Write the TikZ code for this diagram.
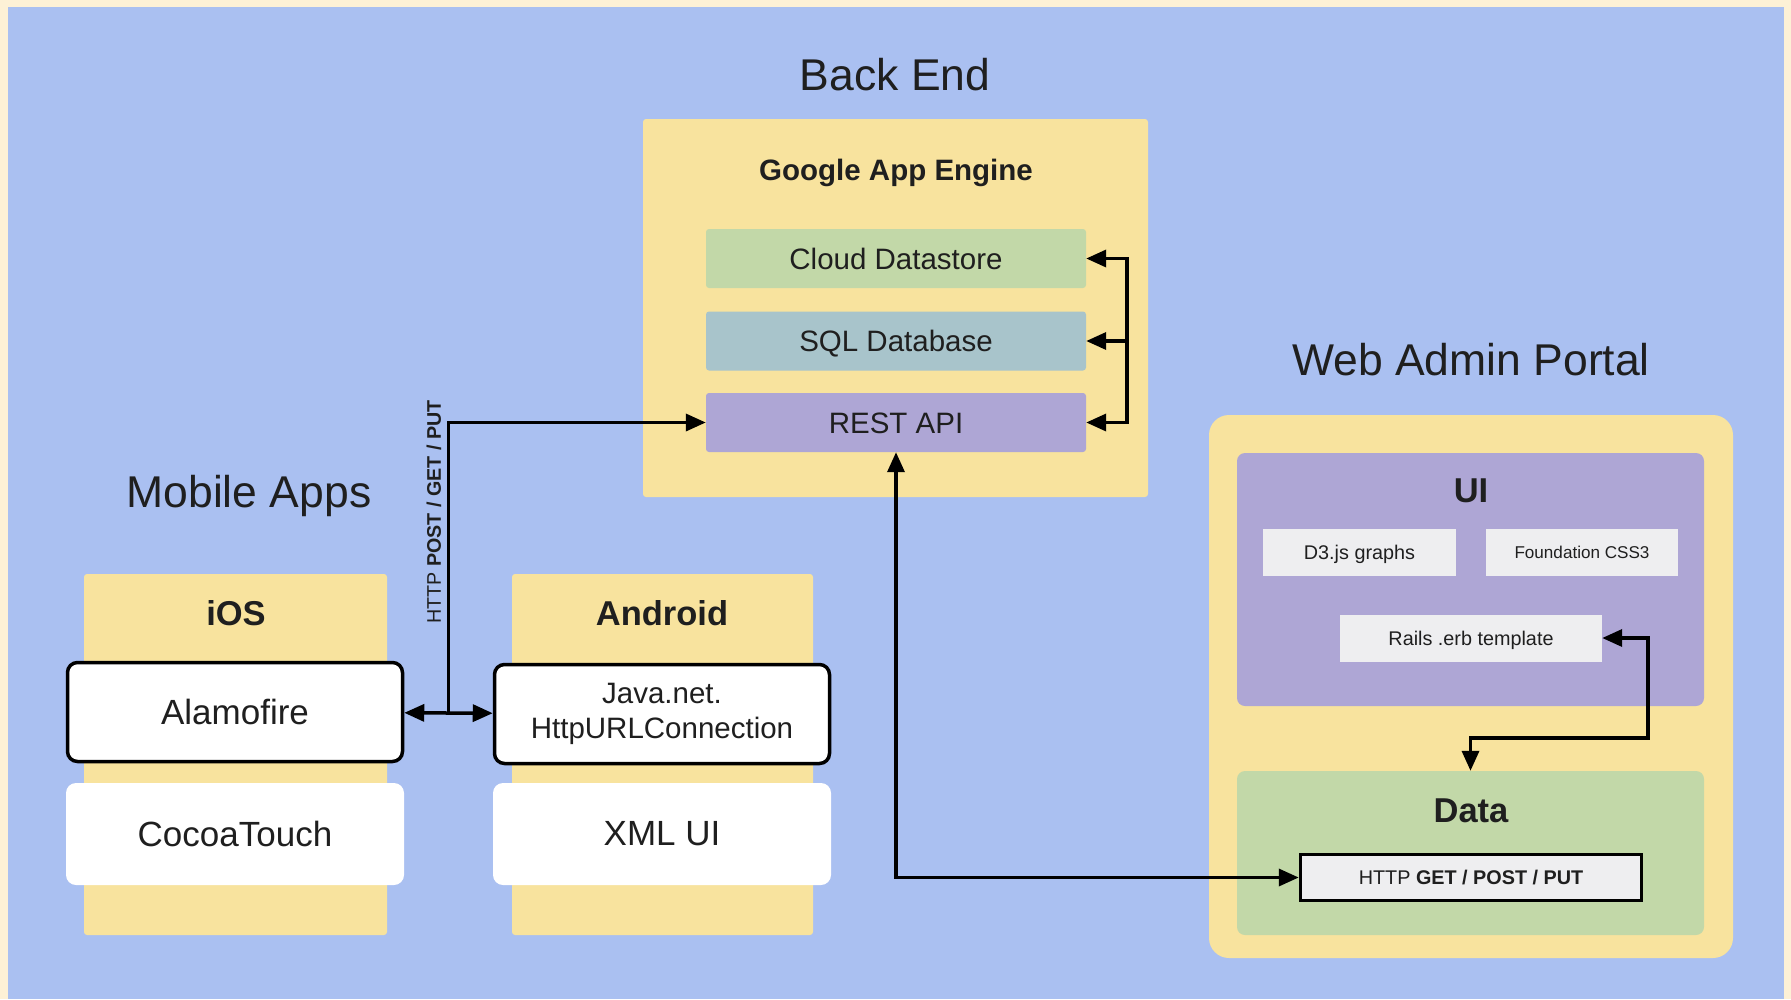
\documentclass[tikz,border=0pt]{standalone}
\usepackage{fontspec}
\setmainfont{Liberation Sans}
\usetikzlibrary{positioning,calc,arrows.meta}

\definecolor{bgblue}{RGB}{170,192,241}
\definecolor{rim}{RGB}{253,241,214}
\definecolor{sand}{RGB}{248,227,158}
\definecolor{leaf}{RGB}{194,216,168}
\definecolor{slate}{RGB}{168,196,203}
\definecolor{lilac}{RGB}{174,166,213}
\definecolor{paper}{RGB}{238,238,240}
\newcommand{\sz}[2]{\fontsize{#1}{#2}\selectfont}

\begin{document}
\begin{tikzpicture}[
  x = 1pt, y = -1pt,
  >= {Triangle[length=20pt,width=17pt]},
  every node/.style = {inner sep = 0pt, text = black!88},
  area/.style = {fill = sand, rounded corners = 3pt},
  block/.style = {minimum width = 380pt, minimum height = 59pt,
    rounded corners = 3pt, font = \sz{29.5}{35}, text height = 21pt, text depth = 0pt},
  card/.style = {fill = white, rounded corners = 10pt, minimum width = 338pt,
    minimum height = 102pt, font = \sz{35}{41}},
  framed/.style = {card, draw = black, line width = 3.5pt, minimum width = 335pt,
    minimum height = 99pt},
  chip/.style = {fill = paper, minimum height = 47pt, font = \sz{19.8}{24},
    text height = 14pt, text depth = 0pt},
  heading/.style = {font = \sz{44.5}{52}},
  caption/.style = {font = \bfseries\sz{34.5}{40}},
  link/.style = {line width = 3.5pt},
  ]
  \fill[rim] (0,0) rectangle (1791,999);
  \fill[bgblue] (8,7) rectangle (1784,999);

  \node[heading] at (895,75) {Back End};
  \node[area, minimum width = 505pt, minimum height = 378pt] (gae) at (895.5,308) {};
  \node[font = \bfseries\sz{29.5}{35}] at (896,173) {Google App Engine};
  \node[block, fill = leaf] (cloud) at (896,258.5) {Cloud Datastore};
  \node[block, fill = slate] (sql) at (896,341) {SQL Database};
  \node[block, fill = lilac] (rest) at (896,422.5) {REST API};

  \node[heading] at (249,496) {Mobile Apps};
  \node[area, minimum width = 303pt, minimum height = 361pt] (ios) at (235.5,754.5) {};
  \node[area, minimum width = 301pt, minimum height = 361pt] (android) at (662.5,754.5) {};
  \node[caption] at (236,613) {iOS};
  \node[caption] at (662,613) {Android};
  \node[framed] (alamo) at (235,712) {Alamofire};
  \node[card] (cocoa) at (235,834) {CocoaTouch};
  \node[framed, align = center, font = \sz{29.5}{35}] (java) at (662,714)
    {Java.net.\\HttpURLConnection};
  \node[card] (xml) at (662,834) {XML UI};
  \node[rotate = 90, font = \sz{19.7}{24}] (verbs) at (434,512)
    {HTTP \textbf{POST / GET / PUT}};

  \node[heading] at (1471,360) {Web Admin Portal};
  \node[fill = sand, rounded corners = 20pt, minimum width = 524pt,
    minimum height = 543pt] (portal) at (1471,686.5) {};
  \node[fill = lilac, rounded corners = 8pt, minimum width = 467pt,
    minimum height = 253pt] (ui) at (1470.5,579.5) {};
  \node[caption] at (1471,491) {UI};
  \node[chip, minimum width = 193pt] (d3) at (1359.5,552.5) {D3.js graphs};
  \node[chip, minimum width = 192pt, font = \sz{17.1}{21}, text height = 12.3pt]
    (css) at (1582,552.5) {Foundation CSS3};
  \node[chip, minimum width = 262pt] (rails) at (1471,638) {Rails .erb template};
  \node[fill = leaf, rounded corners = 8pt, minimum width = 467pt,
    minimum height = 164pt] (data) at (1470.5,853) {};
  \node[caption] at (1471,811) {Data};
  \node[chip, draw = black, line width = 3.5pt, minimum width = 341pt,
    minimum height = 46pt] (get) at (1471,877.5)
    {HTTP \textbf{GET / POST / PUT}};

  \coordinate (hub) at ($(alamo.east)!.5!(java.west)$);
  \draw[link, <->] (alamo) -- (java);
  \draw[link, ->] (hub) |- (rest);
  \draw[link, <->] (cloud.east) -- ++(41,0) |- (rest.east);
  \draw[link, ->] ($(sql.east)+(41,0)$) -- (sql.east);
  \draw[link, <->] (rest) |- (get);
  \draw[link, <->] (rails.east) -| ++(46,100) -| (data.north);
\end{tikzpicture}
\end{document}
